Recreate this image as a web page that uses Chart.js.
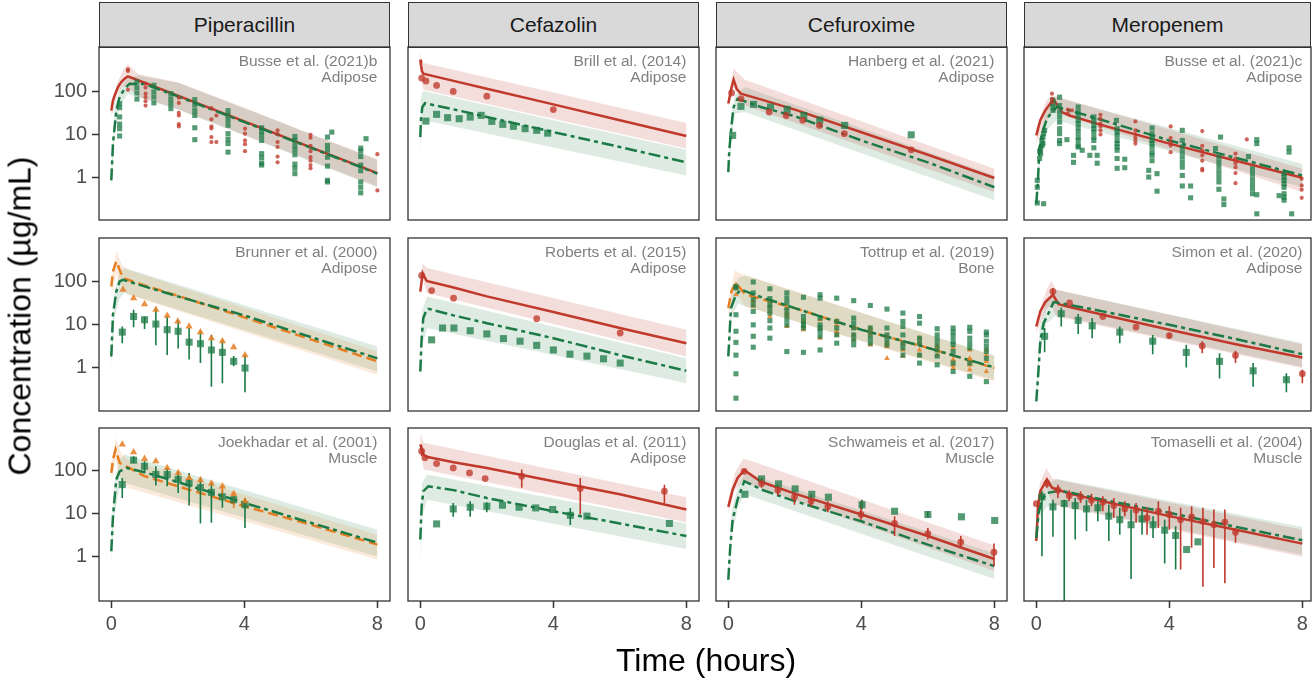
<!DOCTYPE html>
<html><head><meta charset="utf-8">
<script src="https://cdn.jsdelivr.net/npm/chart.js"></script>
<style>
html,body{margin:0;padding:0;background:#fff;}
#root{position:relative;width:1312px;height:679px;overflow:hidden;font-family:"Liberation Sans",Arial,Helvetica,sans-serif;}
.strip{position:absolute;box-sizing:border-box;background:#D9D9D9;border:1.3px solid #333;display:flex;align-items:center;justify-content:center;font-size:21px;color:#1a1a1a;}
canvas{position:absolute;}
.title{position:absolute;white-space:nowrap;color:#000;font-size:32px;}
</style></head><body><div id="root"></div>
<script>
// ---------------- labels ----------------
const drugNames = ["Piperacillin","Cefazolin","Cefuroxime","Meropenem"];
const studyLabels = [
 ["Busse et al. (2021)b","Adipose"],["Brill et al. (2014)","Adipose"],["Hanberg et al. (2021)","Adipose"],["Busse et al. (2021)c","Adipose"],
 ["Brunner et al. (2000)","Adipose"],["Roberts et al. (2015)","Adipose"],["Tottrup et al. (2019)","Bone"],["Simon et al. (2020)","Adipose"],
 ["Joekhadar et al. (2001)","Muscle"],["Douglas et al. (2011)","Adipose"],["Schwameis et al. (2017)","Muscle"],["Tomaselli et al. (2004)","Muscle"]];
const xTickValues = [0,4,8];
const xTickLabels = ["0","4","8"];
const yTickValues = [1,10,100];
const yTickLabels = ["1","10","100"];
const xAxisTitle = "Time (hours)";
const yAxisTitle = "Concentration (µg/mL)";

// ---------------- row 1 ----------------
// Piperacillin – Busse (2021)b
const a1_redLine = [[0,35],[0.05,61],[0.1,79],[0.2,124],[0.3,162],[0.4,194],[0.5,220],[1,156],[2,78],[4,19.7],[6,4.9],[8,1.24]];
const a1_greenLine = [[0,0.84],[0.05,6],[0.15,35],[0.25,73],[0.4,113],[0.55,148],[1,145],[2,75],[4,19],[6,4.8],[8,1.2]];
const a1_redBand = [[0,25,50],[0.2,90,170],[0.35,130,300],[0.5,120,420],[0.8,75,250],[2,38,160],[4,9.5,41],[6,2.4,10],[8,0.6,2.6]];
const a1_greenBand = [[0,0.5,1.5],[0.1,10,40],[0.25,45,110],[0.5,85,200],[0.8,72,230],[2,37,155],[4,9.2,40],[6,2.3,10],[8,0.58,2.5]];
const a1_redPts = [[0.5,[319,292,107]],[1.03,[148,120,87,72,58,46]],[2.03,[70,53,31,27,17,15]],[3.01,[40,22,15,13.5,8.5,6.5]],[3.16,[27,6.5]],[4.02,[13.3,10.2,7.1,5.8,4.0]],[5.0,[12.2,10,6.5,5.0,3.0,2.2]],[5.99,[9.6,8.2,5.3,4.0,2.9,2.4,1.9,1.6]],[8.0,[3.4,0.49]]];
const a1_greenPts = [[0.25,[51,41,25,17,13.3,9]],[0.77,[162,120,90,65]],[1.28,[136,95,72,53]],[1.79,[87,66,51,39]],[2.51,[63,47,35,27,14,7.4]],[3.51,[35,27,21,16,10.2,7.6,6.0,3.8]],[4.52,[14,11.5,9.3,7.1,3.5,2.8,2.1,1.9]],[5.52,[8.8,7.1,5.4,4.3,3.3,2.0,1.6,1.2]],[6.5,[8.5,5.4,4.2,2.9,1.8,0.84,0.77]],[6.63,[11.1]],[7.5,[4.7,4.0,3.0,1.9,1.4,0.77,0.58,0.43]],[7.66,[7.8]]];
// Cefazolin – Brill (2014)
const a2_redLine = [[0,535],[0.02,400],[0.05,290],[0.09,252],[1,172],[2,113],[4,49],[6,21],[8,9.0]];
const a2_greenLine = [[0,8.5],[0.02,22],[0.06,42],[0.14,52],[1,37.5],[2,25],[4,11.1],[6,5.0],[8,2.2]];
const a2_redBand = [[0,300,900],[0.05,140,520],[0.1,107,447],[4,22.7,93],[8,4.6,18]];
const a2_greenBand = [[0,4,60],[0.05,15,90],[0.1,20.8,100],[4,4.9,21],[8,1.09,4.3]];
const a2_redPts = [[0.04,[200]],[0.17,[171]],[0.49,[135]],[0.99,[98]],[2.0,[76]],[4.0,[37]]];
const a2_greenPts = [[0.17,[20]],[0.49,[28.7]],[0.82,[24]],[1.17,[22.7]],[1.5,[24.8]],[1.83,[27.2]],[2.15,[19.7]],[2.48,[16.8]],[2.8,[15.1]],[3.15,[13.3]],[3.5,[12.2]],[3.83,[10.5]]];
// Cefuroxime – Hanberg (2021)
const a3_redLine = [[0,51],[0.05,79],[0.1,124],[0.16,183],[0.25,113],[0.38,87],[1,63],[2,37],[4,11],[6,3.3],[8,0.95]];
const a3_greenLine = [[0,1.3],[0.03,4.2],[0.1,17],[0.16,42.5],[0.28,66],[1,42],[2,26],[4,7.1],[6,2.2],[8,0.58]];
const a3_redBand = [[0,40,70],[0.1,90,200],[0.16,120,330],[0.5,46,184],[8,0.45,1.56]];
const a3_greenBand = [[0,1,2],[0.1,8,30],[0.2,30,80],[0.5,32.5,124],[8,0.29,1.09]];
const a3_redPts = [[0.1,[90]],[0.38,[66]],[1.23,[32.5]],[1.74,[27]],[2.24,[21]],[2.74,[15.9]],[3.49,[10.2]],[5.5,[4.3]]];
const a3_greenPts = [[0.13,[9.3]],[0.38,[44]],[0.76,[49]],[1.27,[42.5]],[1.77,[37.5]],[2.27,[27]],[2.75,[21]],[3.5,[15.9]],[5.5,[9.6]]];
// Meropenem – Busse (2021)c
const a4_redLine = [[0,9.3],[0.12,21],[0.27,35.5],[0.42,51],[0.52,63],[0.77,32.5],[1,27],[2,15.9],[4,6.0],[6,2.4],[8,0.96]];
const a4_greenLine = [[0,0.24],[0.05,0.84],[0.09,4.2],[0.17,10],[0.32,22.7],[0.47,32.5],[0.62,42.5],[1,35.5],[2,21],[4,7.1],[6,2.8],[8,1.09]];
const a4_redBand = [[0,6,14],[0.3,20,60],[0.5,32.5,79],[8,0.45,1.56]];
const a4_greenBand = [[0,0.15,0.4],[0.1,2,8],[0.3,12,40],[0.6,21,72],[8,0.58,2.0]];
const a4_redPts = [[0.47,[87,66,55]],[0.95,[37,30]],[1.07,[35.5]],[1.93,[28,22.7,17.4,15,12.2,9.8]],[2.98,[19.7,12.2,9.8,8.2,7.1,6.0]],[4.04,[15,8.1,6.5,5.4,3.8]],[4.99,[11.7,5.3,4.2,3.2,2.4,1.56,1.43]],[5.99,[3.5,2.7,2.1,1.7,1.24,0.72]],[6.33,[7.5]],[7.98,[0.91,0.64,0.51,0.33]]];
const a4_greenPts = [[0.03,[0.84,0.58,0.25]],[0.1,[2.7,4.0]],[0.13,[3.5,4.6]],[0.17,[5.4,7.1]],[0.2,[6.0,8.5]],[0.22,[10.2,0.24]],[0.25,[12.2]],[0.5,[61,51,42.5,35.5]],[0.7,[72,46,32.5,25,19,13.3,10.2,7.1,6.0]],[0.92,[7.4]],[1.12,[3.2,2.2]],[1.26,[42.5,32.5,27,20.8,17.4,14,11.1,8.5,7.1,5.4,5.0]],[1.38,[4.2]],[1.61,[3.2]],[1.73,[25,20.8,15.9,13.3,11.1,8.5,7.1,4.8]],[1.83,[3.2,2.1]],[2.41,[20.8]],[2.43,[13.3,11.1,9.3,7.1,6.0,5.0,4.2,2.7,1.6]],[2.66,[2.6,1.65]],[3.38,[1.43,1.0]],[3.48,[13.8,10.2,8.5,7.1,6.0,5.0,3.8,3.2,2.4]],[3.63,[1.2,0.47]],[4.39,[12.2,7.1,5.0,3.8,2.9,2.2,1.7,1.09,0.62]],[4.64,[0.62,0.33]],[5.39,[4.6]],[5.49,[2.9,2.2,1.7,1.3,1.0,0.77,0.52]],[5.54,[8.5]],[5.64,[0.31,0.23]],[6.38,[3.0]],[6.5,[1.56,1.2,0.91,0.7,0.54,0.41]],[6.63,[7.4,6.0,0.39,0.14]],[7.3,[0.37]],[7.45,[1.2,1.0,0.84,0.7,0.58,0.41,0.34,0.29]],[7.6,[4.8,3.8]],[7.68,[0.14]]];

// ---------------- row 2 ----------------
// Piperacillin – Brunner (2000)
const b1_orangeLine = [[0,75],[0.05,168],[0.15,287],[0.35,117],[1,79],[2,45.5],[4,14.3],[6,4.4],[8,1.36]];
const b1_greenLine = [[0,1.77],[0.05,16.5],[0.15,57],[0.25,98],[0.35,107],[1,75],[2,44],[4,15.9],[6,5.0],[8,1.6]];
const b1_orangeBand = [[0,40,110],[0.15,150,490],[0.35,60,220],[0.5,48,183],[8,0.66,2.3]];
const b1_greenBand = [[0,1,3],[0.1,15,60],[0.25,40,160],[0.4,52.5,200],[8,0.79,3.0]];
const b1_orangePts = [[0.35,[63]],[0.67,[40]],[1.0,[29]],[1.34,[21.5]],[1.68,[15.6]],[2.0,[11.5]],[2.34,[8.8]],[2.68,[6.5]],[3.01,[4.7]],[3.34,[4.0]],[3.68,[2.9]],[4.02,[1.9]]];
const b1_greenBars = [[0.33,6.5,3.6,8.8],[0.67,15,8.4,21.5],[1.0,12.6,7.7,15],[1.34,10,3.2,23.5],[1.68,7.4,1.9,15],[2.01,6.8,2.7,12.6],[2.34,3.8,1.5,8.1],[2.68,3.5,1.24,6.8],[3.01,2.5,0.35,5.6],[3.34,2.2,0.42,4.3],[3.68,1.36,1.04,1.8],[4.02,0.95,0.26,1.9]];
// Cefazolin – Roberts (2015)
const b2_redLine = [[0,57],[0.07,153],[0.19,101],[1,71],[2,44],[4,19],[6,8.1],[8,3.6]];
const b2_greenLine = [[0,0.79],[0.04,4.7],[0.09,13.8],[0.19,21.5],[0.24,22.7],[1,15.9],[2,10.5],[4,4.7],[6,1.9],[8,0.82]];
const b2_redBand = [[0,40,80],[0.07,110,260],[0.2,52.5,200],[8,1.77,7.4]];
const b2_greenBand = [[0,0.4,2],[0.05,3,20],[0.2,8.1,44],[8,0.42,1.6]];
const b2_redPts = [[0.04,[135]],[0.34,[60]],[1.0,[40]],[3.5,[13.3]],[6.01,[6.2]]];
const b2_greenPts = [[0.34,[4.3]],[0.67,[8.1]],[1.01,[8.1]],[1.5,[7.0]],[2.0,[5.9]],[2.5,[4.6]],[3.0,[4.0]],[3.5,[3.2]],[4.0,[2.5]],[4.5,[2.0]],[5.01,[1.8]],[5.51,[1.56]],[6.01,[1.24]]];
// Cefuroxime – Tottrup (2019)
const b3_orangeLine = [[0,23.5],[0.1,60],[0.23,90],[0.5,50],[1,38],[2,23.5],[4,7.4],[6,2.8],[8,0.95]];
const b3_greenLine = [[0,1.77],[0.08,23.5],[0.23,48],[0.38,63],[1,42],[2,23.5],[4,7.4],[6,2.8],[8,0.98]];
const b3_orangeBand = [[0,15,35],[0.2,60,184],[0.35,40,150],[0.5,26,140],[8,0.46,1.8]];
const b3_greenBand = [[0,1,3],[0.1,15,50],[0.3,30,120],[0.5,26,135],[8,0.5,1.85]];
const b3_greenPts = [[0.23,[75,69,16.5,6.8,3.75,1.9,0.7,0.19]],[0.75,[95,53,37,28,19.7,9.6,5.2,2.9]],[1.25,[66,39,29,23.5,18,12,8.1,4.7]],[1.76,[53,40,31,21.5,16.5,12.6,9.6,2.3]],[2.26,[42,15,11.5,9.6,8.1,2.2]],[2.76,[48,40,13.8,9.6,8.1,6.8,5.2,2.5]],[3.26,[40,11.5,8.1,5.6,3.6]],[3.77,[35,13.8,10.5,8.1,5.6,4.3,3.3]],[4.27,[27,8.1,6.2,4.7,3.6]],[4.77,[22.3,8.1,5.6,4.3,3.3]],[5.25,[18,11.5,8.8,5.6,3.6,2.8,1.9]],[5.75,[15,10.5,4.7,3.6,1.9,1.24]],[6.28,[7.8,5.6,4.3,3.3,2.5,1.8,1.13]],[6.76,[8.1,6.5,5.2,4.0,3.3,2.3,1.24,0.79]],[7.26,[8.4,6.8,4.7,3.6,2.8,1.24,0.61]],[7.76,[6.5,5.6,4.0,3.0,2.3,1.6,0.46]]];
const b3_orangePts = [[0.23,[82,69,48]],[0.75,[34,26]],[1.25,[26,19.7,15]],[1.76,[23.5,18,15,8.8]],[2.26,[11.5,8.8,7.4]],[2.76,[12.6,8.1,4.7]],[3.26,[12,9.6,6.8,5.6]],[3.77,[8.1,5.6,4.3]],[4.27,[8.1,6.8,5.6,3.3]],[4.77,[5.2,3.6,3.0,1.6]],[5.25,[3.6,2.5,1.8]],[5.75,[4.7,3.6,2.5,1.9]],[6.28,[3.0,2.5,1.9]],[6.76,[2.8,1.5,1.13,0.95]],[7.26,[2.5,1.6,1.13,0.87]],[7.76,[2.5,1.9,1.36,0.79]]];
// Meropenem – Simon (2020)
const b4_redLine = [[0,8.8],[0.12,19.7],[0.27,32.5],[0.5,48],[0.67,29],[1,25],[2,16.5],[4,7.4],[6,3.4],[8,1.68]];
const b4_greenLine = [[0,0.16],[0.07,0.95],[0.12,4.0],[0.22,10.5],[0.37,18],[0.52,32.5],[1,28],[2,19.7],[4,9.6],[6,4.5],[8,2.0]];
const b4_redBand = [[0,6,13],[0.3,22,60],[0.45,28,100],[0.6,15,63],[8,0.95,3.4]];
const b4_greenBand = [[0,0.1,0.3],[0.1,2,8],[0.3,10,35],[0.6,16,63],[8,1.0,3.6]];
const b4_redBars = [[0.5,57,48,69],[1.0,31],[2.0,15],[3.0,8.5],[4.0,5.4,4.7,6.1],[4.99,3.1,2.1,4.0],[5.99,1.87,1.24,2.4],[8.0,0.70,0.42,0.87]];
const b4_greenBars = [[0.25,5.2,2.2,8.1],[0.75,17.4,8.8,24.4],[1.26,12.2,5.9,17.1],[1.68,9.1,4.7,13.8],[2.51,6.5,3.6,8.8],[3.5,4.0,2.0,5.6],[4.51,2.2,0.98,3.3],[5.51,1.36,0.54,2.1],[6.52,0.82,0.35,1.24],[7.52,0.51,0.26,0.72]];

// ---------------- row 3 ----------------
// Piperacillin – Joekhadar (2001)
const c1_orangeLine = [[0,88],[0.05,180],[0.13,308],[0.25,151],[1,74],[2,43],[4,14.8],[6,5.5],[8,1.9]];
const c1_greenLine = [[0,1.33],[0.05,8.7],[0.15,62],[0.25,96],[0.45,115],[1,91],[2,54],[4,17.7],[6,6.1],[8,2.1]];
const c1_orangeBand = [[0,50,150],[0.13,180,575],[0.3,60,250],[0.5,40,180],[8,0.85,3.2]];
const c1_greenBand = [[0,0.7,2.5],[0.1,10,60],[0.25,40,180],[0.4,52,236],[8,1.0,4.2]];
const c1_orangeBars = [[0.33,403],[0.67,267],[1.0,187],[1.34,165],[1.68,115],[2.01,88],[2.34,67],[2.68,60],[3.01,50],[3.34,43,21,43],[3.68,29,13.5,29],[4.02,19.4]];
const c1_greenBars = [[0.33,47,23,67],[0.67,174,151,215],[1.0,126,96,165],[1.34,81,45,126],[1.68,81,43,115],[2.01,62,30,91],[2.34,52,15.3,88],[2.68,40,5.9,67],[3.01,31,6.1,52],[3.34,24.4,13.6,36],[3.68,21,16,28],[4.02,16,4.6,23]];
// Cefazolin – Douglas (2011)
const c2_redLine = [[0,403],[0.09,236],[0.19,208],[1,156],[2,115],[4,56.5],[6,28],[8,12.4]];
const c2_greenLine = [[0,2.5],[0.04,14.8],[0.09,33],[0.24,43],[1,35],[2,23],[4,11.3],[6,5.9],[8,3.0]];
const c2_redBand = [[0,300,750],[0.04,200,600],[0.1,105,440],[8,6.3,24]];
const c2_greenBand = [[0,0.8,4],[0.05,8,50],[0.2,21,81],[8,1.5,5.9]];
const c2_redBars = [[0.04,282,215,381],[0.14,197],[0.49,145],[0.99,115],[1.48,88],[1.95,65],[3.05,74,40,105],[4.81,38,9.5,67],[7.34,33,17.7,47]];
const c2_greenBars = [[0.49,5.75],[0.99,12.8,8.4,17.7],[1.5,14,8.4,19.4],[2.0,14.8,10.7,18.4],[2.47,15.6],[2.97,14],[3.47,13.5],[3.98,12.4],[4.51,9.1,5.4,13.5],[5.01,8.7],[7.49,5.9]];
// Cefuroxime – Schwameis (2017)
const c3_redLine = [[0,14.3],[0.13,36],[0.28,67],[0.48,102],[1,54],[2,29],[4,9.5],[6,3.0],[8,0.88]];
const c3_greenLine = [[0,0.29],[0.06,1.74],[0.13,7.2],[0.28,21],[0.48,56.5],[1,36],[2,19.4],[4,6.6],[6,1.9],[8,0.6]];
const c3_redBand = [[0,10,20],[0.2,35,90],[0.45,60,187],[0.5,52,187],[8,0.46,1.8]];
const c3_greenBand = [[0,0.2,0.4],[0.1,3,12],[0.3,15,45],[0.5,28,88],[8,0.30,1.2]];
const c3_redBars = [[0.48,96],[1.0,50,40,67],[1.49,35,26,47],[1.99,24.4,16,33],[2.49,19.4,14.3,28],[2.99,14.3,10.7,19.4],[3.99,9.5,7.2,19.4],[5.0,5.9,3.0,8.7],[6.0,3.4,2.5,4.6],[6.99,2.15,1.6,3.0],[7.99,1.26,0.6,2.0]];
const c3_greenBars = [[0.5,28],[1.0,64],[1.51,49],[2.01,37.5],[2.51,28],[3.01,24],[4.02,16,12.4,21],[5.0,11.3],[6.0,9.5,8.1,11.3],[7.01,8.4],[8.01,6.9]];
// Meropenem – Tomaselli (2004)
const c4_redLine = [[0,2.3],[0.05,14.8],[0.12,33],[0.32,62],[0.47,40],[1,29],[2,19.4],[4,8.7],[6,4.2],[8,2.0]];
const c4_greenLine = [[0,2.7],[0.07,10.4],[0.17,21],[0.32,30],[0.67,34],[1,31],[2,21],[4,10.4],[6,4.9],[8,2.4]];
const c4_redBand = [[0,1.9,3],[0.1,15,50],[0.3,40,115],[0.5,16,64],[8,0.99,4.2]];
const c4_greenBand = [[0,1.5,4],[0.1,8,25],[0.3,14,45],[0.6,16,64],[8,1.1,4.9]];
const c4_redBars = [[0,17],[0.32,50,40,62],[0.65,35,23,47],[0.99,26,19.4,35],[1.33,24.4,17.7,33],[1.66,20.4,14.8,29],[2.0,18.4,11.3,25.3],[2.33,15.3,7.9,23],[2.66,12.8,8.7,19.4],[3.0,12,6.1,17.7],[3.33,7.9,3.2,13.6],[3.67,11.3,4.6,19.4],[4.0,9.5,4.2,14.8],[4.34,7.2,0.5,13.6],[4.67,8.4,1.6,14.8],[5.01,6.6,0.2,13.6],[5.34,5.5,0.54,12.4],[5.67,6.3,0.24,12.4],[5.99,3.7,2.1,4.6]];
const c4_greenBars = [[0.17,24.4,1.02,33],[0.5,14.3,2.9,21],[0.84,17.1,0.05,21],[1.17,15.3,2.5,23],[1.51,12.8,3.9,21],[1.85,13.6,6.6,19.4],[2.18,8.7,2.3,16.2],[2.51,7.2,3.2,13.6],[2.85,5.5,0.3,12.4],[3.18,7.5,3.2,12.4],[3.51,5.5,2.7,8.7],[3.86,4.1,0.69,7.2],[4.19,3.1,0.5,5.1],[4.52,1.46],[4.86,2.2]];

// ---------------- panel table built from the arrays ----------------
const panelDefs = [
 {bands:[[a1_redBand,'red'],[a1_greenBand,'green']], lines:[[a1_redLine,'red'],[a1_greenLine,'green']], groups:[[a1_redPts,'red'],[a1_greenPts,'green']], bars:[], size:'s'},
 {bands:[[a2_redBand,'red'],[a2_greenBand,'green']], lines:[[a2_redLine,'red'],[a2_greenLine,'green']], groups:[[a2_redPts,'red'],[a2_greenPts,'green']], bars:[], size:'l'},
 {bands:[[a3_redBand,'red'],[a3_greenBand,'green']], lines:[[a3_redLine,'red'],[a3_greenLine,'green']], groups:[[a3_redPts,'red'],[a3_greenPts,'green']], bars:[], size:'l'},
 {bands:[[a4_redBand,'red'],[a4_greenBand,'green']], lines:[[a4_redLine,'red'],[a4_greenLine,'green']], groups:[[a4_redPts,'red'],[a4_greenPts,'green']], bars:[], size:'s'},
 {bands:[[b1_orangeBand,'orange'],[b1_greenBand,'green']], lines:[[b1_orangeLine,'orange'],[b1_greenLine,'green']], groups:[[b1_orangePts,'orange']], bars:[[b1_greenBars,'green']], size:'l'},
 {bands:[[b2_redBand,'red'],[b2_greenBand,'green']], lines:[[b2_redLine,'red'],[b2_greenLine,'green']], groups:[[b2_redPts,'red'],[b2_greenPts,'green']], bars:[], size:'l'},
 {bands:[[b3_orangeBand,'orange'],[b3_greenBand,'green']], lines:[[b3_orangeLine,'orange'],[b3_greenLine,'green']], groups:[[b3_greenPts,'green'],[b3_orangePts,'orange']], bars:[], size:'m'},
 {bands:[[b4_redBand,'red'],[b4_greenBand,'green']], lines:[[b4_redLine,'red'],[b4_greenLine,'green']], groups:[], bars:[[b4_redBars,'red'],[b4_greenBars,'green']], size:'l'},
 {bands:[[c1_orangeBand,'orange'],[c1_greenBand,'green']], lines:[[c1_orangeLine,'orange'],[c1_greenLine,'green']], groups:[], bars:[[c1_orangeBars,'orange'],[c1_greenBars,'green']], size:'l'},
 {bands:[[c2_redBand,'red'],[c2_greenBand,'green']], lines:[[c2_redLine,'red'],[c2_greenLine,'green']], groups:[], bars:[[c2_redBars,'red'],[c2_greenBars,'green']], size:'l'},
 {bands:[[c3_redBand,'red'],[c3_greenBand,'green']], lines:[[c3_redLine,'red'],[c3_greenLine,'green']], groups:[], bars:[[c3_redBars,'red'],[c3_greenBars,'green']], size:'l'},
 {bands:[[c4_redBand,'red'],[c4_greenBand,'green']], lines:[[c4_redLine,'red'],[c4_greenLine,'green']], groups:[], bars:[[c4_redBars,'red'],[c4_greenBars,'green']], size:'l'}
];

// ---------------- styling / layout ----------------
const FONT = '"Liberation Sans", Arial, Helvetica, sans-serif';
Chart.defaults.font.family = FONT;
const STY = {
 red:{line:'#C0392B', pt:'rgba(192,57,43,0.78)', band:'rgba(192,57,43,0.17)', dash:[], shape:'circle', order:6},
 green:{line:'#1B7A46', pt:'rgba(27,122,70,0.75)', band:'rgba(27,122,70,0.15)', dash:[12,4,4,4], shape:'rect', order:5},
 orange:{line:'#E67E22', pt:'rgba(230,126,34,0.85)', band:'rgba(230,126,34,0.16)', dash:[10,5], shape:'triangle', order:6}
};
const RAD = {s:{circle:2.1,rect:3.6,triangle:3.2}, m:{circle:3,rect:3.6,triangle:3.2}, l:{circle:3.4,rect:5,triangle:4.2}};
const colLeft = [99, 408, 716, 1024];
const colWidth = [291, 291, 291, 287];
const xMinAll = -0.37;
const xMaxByCol = [8.38, 8.38, 8.38, 8.26];
const rowTop = [47, 238, 428];
const panelH = 173;
const yMinByRow = [0.1005, 0.0955, 0.0928];
const yMaxByRow = [1055, 1000, 973];

const root = document.getElementById('root');

function lineXY(rows){ return rows.map(r=>({x:r[0], y:r[1]})); }
function bandLo(rows){ return rows.map(r=>({x:r[0], y:r[1]})); }
function bandHi(rows){ return rows.map(r=>({x:r[0], y:r[2]})); }
function groupsXY(groups){ const o=[]; groups.forEach(g=>g[1].forEach(v=>o.push({x:g[0], y:v}))); return o; }
function barsXY(rows){ return rows.map(r=>({x:r[0], y:r[1]})); }
function barsSegs(rows){ const o=[]; rows.forEach(r=>{ if(r.length>=4){ o.push({x:r[0],y:r[2]},{x:r[0],y:r[3]},{x:r[0],y:null}); } }); return o; }

// strips
drugNames.forEach((name,c)=>{
  const d=document.createElement('div'); d.className='strip';
  d.style.left=colLeft[c]+'px'; d.style.top='1.5px'; d.style.width=colWidth[c]+'px'; d.style.height='46px';
  d.textContent=name; root.appendChild(d);
});

panelDefs.forEach((p,i)=>{
  const row=Math.floor(i/4), col=i%4;
  const ML = col===0?70:10, MR=10, MT=22, MB = row===2?48:22;
  const W = colWidth[col]+ML+MR, H = panelH+MT+MB;
  const cv=document.createElement('canvas');
  cv.width=W; cv.height=H; cv.style.width=W+'px'; cv.style.height=H+'px';
  cv.style.left=(colLeft[col]-ML)+'px'; cv.style.top=(rowTop[row]-MT)+'px';
  root.appendChild(cv);
  const ds=[];
  p.bands.forEach(([rows,k])=>{
    ds.push({data:bandLo(rows), borderWidth:0, borderColor:'rgba(0,0,0,0)', pointRadius:0, fill:false, order:10});
    ds.push({data:bandHi(rows), borderWidth:0, borderColor:'rgba(0,0,0,0)', pointRadius:0, fill:'-1', backgroundColor:STY[k].band, order:10});
  });
  p.lines.forEach(([rows,k])=>{
    ds.push({data:lineXY(rows), borderColor:STY[k].line, borderWidth:2.5, borderDash:STY[k].dash, pointRadius:0, fill:false, order:STY[k].order, borderCapStyle:'butt'});
  });
  p.bars.forEach(([rows,k])=>{
    ds.push({data:barsSegs(rows), borderColor:STY[k].line, borderWidth:1.6, pointRadius:0, fill:false, spanGaps:false, order:3});
    ds.push({data:barsXY(rows), showLine:false, pointStyle:STY[k].shape, pointRadius:RAD[p.size][STY[k].shape], pointBackgroundColor:STY[k].pt, pointBorderWidth:0, order:2});
  });
  p.groups.forEach(([g,k])=>{
    ds.push({data:groupsXY(g), showLine:false, pointStyle:STY[k].shape, pointRadius:RAD[p.size][STY[k].shape], pointBackgroundColor:STY[k].pt, pointBorderWidth:0, order:2});
  });
  const lab = studyLabels[i];
  const framePlugin = {id:'frame'+i, afterDatasetsDraw(chart){
    const a=chart.chartArea, c=chart.ctx;
    c.save();
    c.fillStyle='#7F7F7F'; c.font='15.5px '+FONT; c.textAlign='right'; c.textBaseline='middle';
    const x=chart.scales.x.getPixelForValue(8);
    c.fillText(lab[0], x, a.top+15); c.fillText(lab[1], x, a.top+31);
    c.strokeStyle='#333'; c.lineWidth=1.3; c.strokeRect(a.left, a.top, a.right-a.left, a.bottom-a.top);
    c.restore();
  }};
  new Chart(cv, {
    type:'line',
    data:{datasets:ds},
    options:{
      responsive:false, animation:false, events:[],
      layout:{padding:{top:MT, right:MR, left:0, bottom:0}},
      plugins:{legend:{display:false}, tooltip:{enabled:false}},
      elements:{line:{tension:0}},
      scales:{
        x:{type:'linear', min:xMinAll, max:xMaxByCol[col],
           afterBuildTicks:s=>{ s.ticks = xTickValues.map(v=>({value:v})); },
           afterFit:s=>{ s.height = MB; },
           ticks:{display:row===2, color:'#4D4D4D', font:{size:20}, padding:4, maxRotation:0, autoSkip:false,
                  callback:v=>xTickLabels[xTickValues.indexOf(v)]},
           grid:{display:row===2, drawOnChartArea:false, drawTicks:true, tickLength:7, tickWidth:1.5, tickColor:'#333'},
           border:{display:false}},
        y:{type:'logarithmic', min:yMinByRow[row], max:yMaxByRow[row],
           afterBuildTicks:s=>{ s.ticks = yTickValues.map(v=>({value:v})); },
           afterFit:s=>{ s.width = ML; },
           ticks:{display:col===0, color:'#4D4D4D', font:{size:20}, padding:5, autoSkip:false,
                  callback:v=>yTickLabels[yTickValues.indexOf(v)]},
           grid:{display:col===0, drawOnChartArea:false, drawTicks:true, tickLength:7, tickWidth:1.5, tickColor:'#333'},
           border:{display:false}}
      }
    },
    plugins:[framePlugin]
  });
});

// axis titles
const yt=document.createElement('div'); yt.className='title'; yt.textContent=yAxisTitle;
yt.style.left='20px'; yt.style.top='316px'; yt.style.transform='translate(-50%,-50%) rotate(-90deg)';
root.appendChild(yt);
const xt=document.createElement('div'); xt.className='title'; xt.textContent=xAxisTitle;
xt.style.left='706px'; xt.style.top='660px'; xt.style.transform='translate(-50%,-50%)';
root.appendChild(xt);
</script></body></html>
